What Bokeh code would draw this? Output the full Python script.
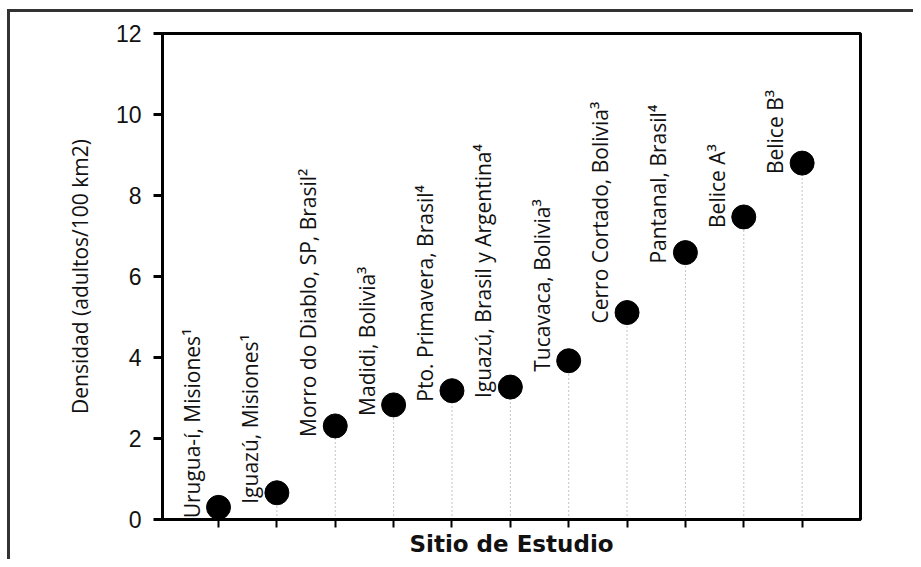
from bokeh.plotting import figure
from bokeh.models import ColumnDataSource, Range1d, FixedTicker
from bokeh.core.properties import value
from bokeh.embed import file_html
from bokeh.resources import INLINE
import math

sites = [
    "Urugua-í, Misiones¹",
    "Iguazú, Misiones¹",
    "Morro do Diablo, SP, Brasil²",
    "Madidi, Bolivia³",
    "Pto. Primavera, Brasil⁴",
    "Iguazú, Brasil y Argentina⁴",
    "Tucavaca, Bolivia³",
    "Cerro Cortado, Bolivia³",
    "Pantanal, Brasil⁴",
    "Belice A³",
    "Belice B³",
]
densidad = [0.30, 0.66, 2.31, 2.83, 3.18, 3.27, 3.92, 5.11, 6.59, 7.47, 8.80]
y_ticks = [0, 2, 4, 6, 8, 10, 12]

pos = list(range(1, len(sites) + 1))
zeros = [0] * len(sites)
src = ColumnDataSource(dict(x=pos, y=densidad, y0=zeros, label=sites))

W, H = 913, 559
frame_css = ("linear-gradient(#333,#333) 7px 9px / 3000px 3px no-repeat, "
             "linear-gradient(#333,#333) 7px 9px / 3px 3000px no-repeat, white")
p = figure(width=W, height=H, x_range=Range1d(0.04, 12.0), y_range=Range1d(0, 12),
           output_backend="svg", toolbar_location=None,
           min_border_left=162, min_border_right=53, min_border_top=33, min_border_bottom=39,
           styles={"background": frame_css})
p.grid.visible = False
p.outline_line_color = "black"
p.outline_line_width = 3
p.background_fill_color = "white"
p.border_fill_color = None

p.segment(x0="x", y0="y0", x1="x", y1="y", source=src, line_color="#8a8a8a",
          line_width=1, line_dash="1 3")
p.scatter(x="x", y="y", source=src, size=24, fill_color="black", line_color="black")
p.text(x="x", y="y", text="label", source=src, angle=math.pi / 2,
       x_offset=-27, y_offset=11, text_align="left", text_baseline="alphabetic",
       text_font=value("Open Sans"), text_font_size="21px", text_color="#111111")

# y axis
ya = p.yaxis[0]
ya.ticker = FixedTicker(ticks=y_ticks)
ya.axis_label = "Densidad (adultos/100 km2)"
ya.axis_label_text_font = "Open Sans"
ya.axis_label_text_font_style = "normal"
ya.axis_label_text_font_size = "21px"
ya.axis_label_text_color = "#111111"
ya.axis_label_standoff = 19
ya.major_label_text_font = "Liberation Sans"
ya.major_label_text_font_size = "23px"
ya.major_label_text_color = "#111111"
ya.major_label_standoff = 12
ya.major_tick_out = 9
ya.major_tick_in = 0
ya.major_tick_line_width = 3
ya.minor_tick_line_color = None
ya.axis_line_width = 3
ya.axis_line_color = "black"

# x axis
xa = p.xaxis[0]
xa.ticker = FixedTicker(ticks=pos)
xa.major_label_text_font_size = "0px"
xa.major_label_standoff = 0
xa.axis_label = "Sitio de Estudio"
xa.axis_label_text_font = "DejaVu Sans"
xa.axis_label_text_font_style = "bold"
xa.axis_label_text_font_size = "23px"
xa.axis_label_text_color = "#111111"
xa.axis_label_standoff = 3
xa.major_tick_out = 8
xa.major_tick_in = 0
xa.major_tick_line_width = 2
xa.minor_tick_line_color = None
xa.axis_line_width = 3
xa.axis_line_color = "black"

open("out.html", "w").write(file_html(p, INLINE))
